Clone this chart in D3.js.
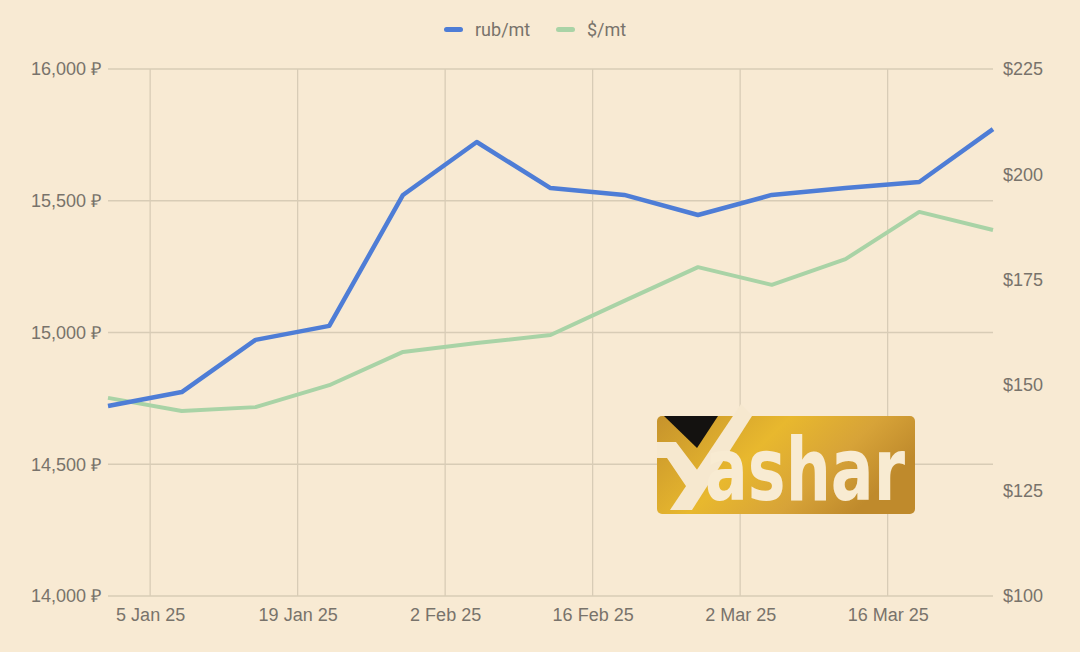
<!DOCTYPE html>
<html><head><meta charset="utf-8">
<script src="https://cdn.jsdelivr.net/npm/d3@7/dist/d3.min.js"></script>
<style>
html,body{margin:0;padding:0;background:#F8EAD3;}
svg{display:block;font-family:Roboto,"Noto Sans",sans-serif;}
</style></head><body>
<svg id="c" width="1080" height="652"></svg>
<script>
const dates = ["2025-01-01","2025-01-08","2025-01-15","2025-01-22","2025-01-29","2025-02-05","2025-02-12","2025-02-19","2025-02-26","2025-03-05","2025-03-12","2025-03-19","2025-03-26"];
const rubPerMt = [14721,14774,14972,15025,15522,15723,15548,15522,15446,15522,15548,15571,15772];
const usdPerMt = [147.0,143.9,144.8,150.0,157.9,160.0,161.9,170.0,178.0,173.8,179.9,191.1,186.8];
const xTicks = ["2025-01-05","2025-01-19","2025-02-02","2025-02-16","2025-03-02","2025-03-16"];
const leftTicks = [14000,14500,15000,15500,16000];
const rightTicks = [100,125,150,175,200,225];
const seriesNames = ["rub/mt","$/mt"];
const colors = ["#4E7DD6","#A9D3A6"];

const parse = d3.utcParse("%Y-%m-%d");
const svg = d3.select("#c");
const L=108,R=993,T=69,B=596;
const x = d3.scaleUtc().domain([parse(dates[0]),parse(dates[dates.length-1])]).range([L,R]);
const yL = d3.scaleLinear().domain([14000,16000]).range([B,T]);
const yR = d3.scaleLinear().domain([100,225]).range([B,T]);
const txt="#78736B", grid="#D8CCB6";

// grid
svg.append("g").selectAll("line").data(xTicks).join("line")
  .attr("x1",d=>x(parse(d))).attr("x2",d=>x(parse(d))).attr("y1",T).attr("y2",B)
  .attr("stroke",grid).attr("stroke-width",1.3);
svg.append("g").selectAll("line").data(leftTicks).join("line")
  .attr("x1",L).attr("x2",R).attr("y1",d=>yL(d)).attr("y2",d=>yL(d))
  .attr("stroke",grid).attr("stroke-width",1.3);

// axes
const fmtL = d=>d3.format(",")(d)+" ₽";
const gl = svg.append("g").attr("transform",`translate(${L},0)`)
  .call(d3.axisLeft(yL).tickValues(leftTicks).tickFormat(fmtL).tickSize(0).tickPadding(7));
const gr = svg.append("g").attr("transform",`translate(${R},0)`)
  .call(d3.axisRight(yR).tickValues(rightTicks).tickFormat(d=>"$"+d).tickSize(0).tickPadding(10));
const fmtX = d3.utcFormat("%-d %b %y");
const gx = svg.append("g").attr("transform",`translate(0,${B})`)
  .call(d3.axisBottom(x).tickValues(xTicks.map(parse)).tickFormat(fmtX).tickSize(0).tickPadding(12));
[gl,gr,gx].forEach(g=>{g.select(".domain").remove();g.selectAll("text").attr("fill",txt).style("font-size","18px");});

// watermark logo
const logo = svg.append("g");
const defs = svg.append("defs");
const grad = defs.append("linearGradient").attr("id","gold").attr("x1","0").attr("y1","0").attr("x2","1").attr("y2","0.4");
grad.append("stop").attr("offset","0").attr("stop-color","#C6932C");
grad.append("stop").attr("offset","0.45").attr("stop-color","#E8B82E");
grad.append("stop").attr("offset","0.75").attr("stop-color","#D7A338");
grad.append("stop").attr("offset","1").attr("stop-color","#BF8A2C");
logo.append("rect").attr("x",657).attr("y",416).attr("width",258).attr("height",98).attr("rx",5).attr("fill","url(#gold)");
logo.append("path").attr("d","M741,404 L752,416 L692,510 L670,510 Z").attr("fill","#F6E8CF");
logo.append("path").attr("d","M657,442 L676,442 L701,475 L690,492 L667,458 L657,458 Z").attr("fill","#F6E8CF");
logo.append("path").attr("d","M664,416 L718,416 L697,448 Z").attr("fill","#141210");
logo.append("text").attr("x",705).attr("y",500).attr("fill","#F8EBD2")
  .style("font-family","'Liberation Sans Narrow','DejaVu Sans Condensed',sans-serif")
  .style("font-weight","bold").style("font-size","88px").attr("textLength",200).attr("lengthAdjust","spacingAndGlyphs").text("ashar");

// lines
const lineR = d3.line().x((d,i)=>x(parse(dates[i]))).y(d=>yL(d));
const lineU = d3.line().x((d,i)=>x(parse(dates[i]))).y(d=>yR(d));
svg.append("path").datum(usdPerMt).attr("d",lineU).attr("fill","none").attr("stroke",colors[1]).attr("stroke-width",4).attr("stroke-linejoin","round");
svg.append("path").datum(rubPerMt).attr("d",lineR).attr("fill","none").attr("stroke",colors[0]).attr("stroke-width",4.5).attr("stroke-linejoin","round");

// legend
const leg = svg.append("g");
const lx=[444,556];
seriesNames.forEach((n,i)=>{
  leg.append("rect").attr("x",lx[i]).attr("y",27).attr("width",19).attr("height",5).attr("rx",2.5).attr("fill",colors[i]);
  leg.append("text").attr("x",lx[i]+31).attr("y",36).attr("fill",txt).style("font-size","18px").text(n);
});
</script></body></html>
